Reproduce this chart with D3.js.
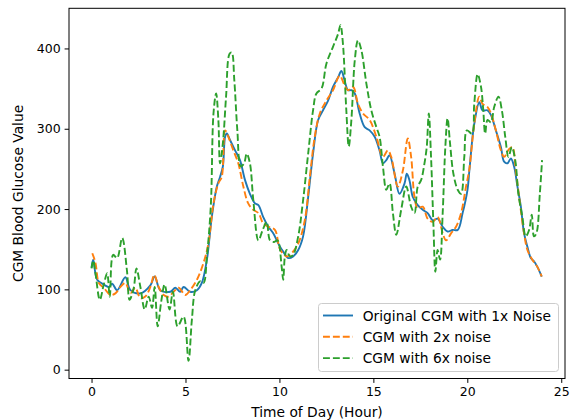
<!DOCTYPE html>
<html>
<head>
<meta charset="utf-8">
<script src="https://cdn.jsdelivr.net/npm/d3@7"></script>
<style>
  body { margin: 0; background: #fff; }
  text { font-family: "DejaVu Sans", sans-serif; }
</style>
</head>
<body>
<svg id="chart" width="572" height="420"></svg>
<script>
// hours of day and glucose values
var origHours = [0.0,0.09,0.30,0.65,0.92,1.10,1.36,1.80,2.07,2.60,3.13,3.36,3.66,4.19,4.46,4.72,4.90,5.25,5.61,5.87,6.14,6.40,6.67,6.84,6.99,7.11,7.20,7.37,7.64,7.90,8.17,8.43,8.70,8.88,9.14,9.41,9.67,9.94,10.20,10.47,10.73,11.00,11.26,11.53,11.79,12.06,12.32,12.59,12.85,13.12,13.30,13.47,13.65,13.83,14.01,14.27,14.54,14.80,15.07,15.33,15.51,15.69,15.86,16.13,16.39,16.66,16.78,16.92,17.10,17.36,17.63,17.89,18.16,18.42,18.69,18.95,19.22,19.49,19.75,20.01,20.11,20.37,20.64,20.81,21.08,21.26,21.52,21.79,21.96,22.14,22.32,22.49,22.67,22.85,23.02,23.20,23.38,23.55,23.73,23.96];
var origVals  = [127,137,112,106,103,107,99,115,99,95,105,116,99,97,102,97,103,97,99,108,137,190,228,240,253,290,294,286,273,261,236,219,207,205,190,178,170,157,147,139,141,149,166,215,269,311,323,335,352,364,372,360,348,348,344,319,302,298,290,273,257,261,267,244,219,232,244,236,215,205,199,195,186,188,178,172,174,174,195,224,248,306,333,323,323,317,298,277,259,257,263,253,228,203,170,153,139,135,128,116];

var noise2Hours = [0.04,0.21,0.39,0.65,1.01,1.27,1.54,1.80,2.07,2.33,2.60,2.86,3.13,3.34,3.57,3.84,4.10,4.37,4.63,4.99,5.25,5.61,5.96,6.22,6.49,6.75,6.93,7.11,7.28,7.55,7.81,8.08,8.34,8.61,8.88,9.14,9.41,9.76,10.03,10.38,10.65,11.00,11.35,11.62,11.88,12.15,12.50,12.85,13.21,13.47,13.65,13.92,14.18,14.45,14.80,15.16,15.51,15.77,15.95,16.30,16.57,16.83,17.01,17.19,17.36,17.63,17.89,18.16,18.42,18.69,18.87,19.14,19.40,19.67,19.93,20.11,20.37,20.64,20.81,21.08,21.26,21.52,21.79,21.96,22.23,22.40,22.58,22.76,23.02,23.20,23.46,23.73,23.96];
var noise2Vals  = [145,133,108,102,93,95,103,108,95,102,89,91,103,118,103,93,91,97,102,93,99,112,133,157,207,232,240,298,290,273,257,228,207,199,195,182,178,174,150,141,145,157,186,240,290,319,335,348,366,354,348,352,331,319,311,290,265,273,265,228,248,288,265,215,201,203,188,184,190,170,161,170,178,195,228,250,306,340,331,327,319,298,273,265,275,277,248,215,170,149,137,128,116];

var noise6Hours = [0.0,0.09,0.21,0.44,0.65,0.83,0.97,1.15,1.36,1.63,1.89,2.02,2.24,2.39,2.60,2.83,3.04,3.22,3.36,3.52,3.71,3.89,4.15,4.33,4.58,4.90,5.16,5.34,5.52,5.78,5.96,6.14,6.35,6.49,6.63,6.75,6.84,6.99,7.16,7.34,7.46,7.60,7.76,7.94,8.12,8.26,8.43,8.61,8.88,9.11,9.32,9.50,9.72,9.90,10.12,10.20,10.29,10.38,10.56,10.73,11.00,11.26,11.53,11.79,11.97,12.24,12.50,12.85,13.12,13.25,13.38,13.56,13.69,13.83,14.01,14.18,14.36,14.63,14.89,15.16,15.33,15.51,15.69,15.86,16.04,16.22,16.48,16.75,17.01,17.19,17.36,17.54,17.72,17.84,17.95,18.07,18.20,18.30,18.42,18.55,18.69,18.83,18.95,19.08,19.26,19.49,19.67,19.84,19.98,20.25,20.37,20.55,20.73,20.85,20.95,21.08,21.26,21.43,21.66,21.84,22.02,22.19,22.37,22.55,22.72,22.93,23.11,23.29,23.43,23.55,23.68,23.86,23.98];
var noise6Vals  = [126,136,120,87,106,120,91,143,139,164,122,87,101,126,103,75,91,77,103,54,85,106,75,97,54,66,11,62,99,110,108,141,205,319,344,311,257,282,340,393,395,360,298,253,257,269,257,211,161,174,184,161,159,161,128,112,141,149,141,143,166,211,269,323,344,350,381,402,418,429,406,323,278,311,385,410,398,356,323,302,290,253,224,232,195,168,199,228,203,195,228,236,257,277,319,265,178,122,149,137,195,277,313,282,244,224,219,265,298,294,331,368,352,323,294,311,308,327,340,323,290,265,277,261,219,190,166,174,193,166,170,219,261];

var seriesNames = ["Original CGM with 1x Noise", "CGM with 2x noise", "CGM with 6x noise"];
var seriesColors = ["#1f77b4", "#ff7f0e", "#2ca02c"];
var xTicks = [0, 5, 10, 15, 20, 25];
var yTicks = [0, 100, 200, 300, 400];

var svg = d3.select("#chart");
// plot box edges (note: "top" is reserved on window, so use other names)
var padL = 69, padR = 565, padT = 8.3, padB = 378.5;

var x = d3.scaleLinear().domain([-1.2, 25.2]).range([padL, padR]);
var y = d3.scaleLinear().domain([-11, 450]).range([padB, padT]);

function zip(hs, vs) {
    return hs.map(function (h, i) { return [h, vs[i]]; });
}
var allSeries = [zip(origHours, origVals), zip(noise2Hours, noise2Vals), zip(noise6Hours, noise6Vals)];

var line = d3.line()
    .x(function (d) { return x(d[0]); })
    .y(function (d) { return y(d[1]); })
    .curve(d3.curveCatmullRom.alpha(0.5));

var plot = svg.append("g");
allSeries.forEach(function (s, i) {
    plot.append("path")
        .attr("d", line(s))
        .attr("fill", "none")
        .attr("stroke", seriesColors[i])
        .attr("stroke-width", 1.9)
        .attr("stroke-dasharray", i == 0 ? null : "6.9,3")
        .attr("stroke-linejoin", "round");
});

// axes
var xAxis = d3.axisBottom(x).tickValues(xTicks).tickSize(4.4).tickPadding(4);
var yAxis = d3.axisLeft(y).tickValues(yTicks).tickSize(4.4).tickPadding(4);

var gx = svg.append("g").attr("transform", "translate(0," + padB + ")").call(xAxis);
var gy = svg.append("g").attr("transform", "translate(" + padL + ",0)").call(yAxis);
[gx, gy].forEach(function (g) {
    g.select(".domain").remove();
    g.selectAll(".tick line").attr("stroke", "#000").attr("stroke-width", 1);
    g.selectAll(".tick text").attr("fill", "#000").style("font-size", "12.5px");
});

// frame
svg.append("rect")
    .attr("x", padL).attr("y", padT)
    .attr("width", padR - padL).attr("height", padB - padT)
    .attr("fill", "none").attr("stroke", "#000").attr("stroke-width", 1);

svg.append("text")
    .attr("x", (padL + padR) / 2).attr("y", 417)
    .attr("text-anchor", "middle")
    .style("font-size", "13.8px")
    .text("Time of Day (Hour)");

svg.append("text")
    .attr("transform", "translate(23," + ((padT + padB) / 2) + ") rotate(-90)")
    .attr("text-anchor", "middle")
    .style("font-size", "13.8px")
    .text("CGM Blood Glucose Value");

// legend
var lg = svg.append("g").attr("transform", "translate(318.5,303.5)");
lg.append("rect")
    .attr("width", 240).attr("height", 68)
    .attr("rx", 3)
    .attr("fill", "#fff").attr("fill-opacity", 0.8)
    .attr("stroke", "#ccc").attr("stroke-width", 1);

seriesNames.forEach(function (name, i) {
    var row = lg.append("g").attr("transform", "translate(0," + (12 + i * 21.3) + ")");
    row.append("line")
        .attr("x1", 4.5).attr("x2", 34.5)
        .attr("stroke", seriesColors[i])
        .attr("stroke-width", 1.9)
        .attr("stroke-dasharray", i == 0 ? null : "6.9,3");
    row.append("text")
        .attr("x", 44.2).attr("y", 5)
        .style("font-size", "13.8px")
        .text(name);
});
</script>
</body>
</html>
